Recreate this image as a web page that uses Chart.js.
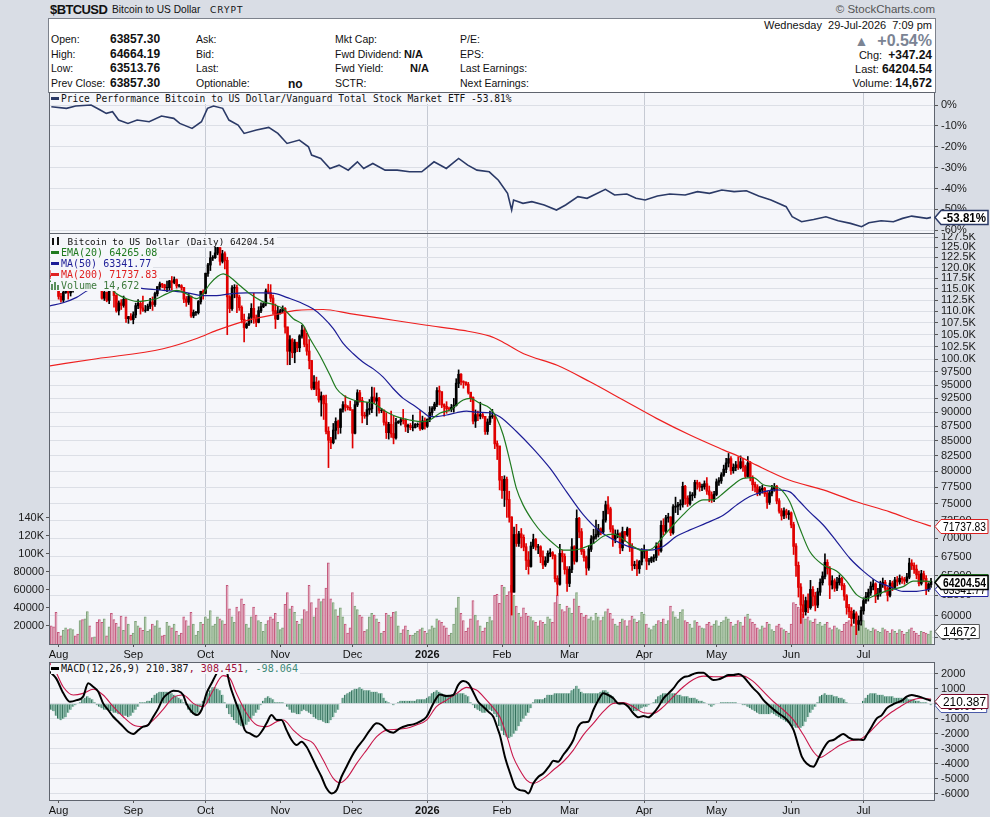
<!DOCTYPE html>
<html>
<head>
<meta charset="utf-8">
<title>$BTCUSD</title>
<script src="https://cdn.jsdelivr.net/npm/chart.js@4.4.1/dist/chart.umd.min.js"></script>
<style>
  body { margin: 0; width: 990px; height: 817px; position: relative; overflow: hidden;
         background: #d9dde5; font-family: "Liberation Sans", Arial, sans-serif; color: #111; }
  .abs { position: absolute; white-space: nowrap; }
  canvas { position: absolute; left: 0; }
  #hdrbox { left: 48px; top: 18px; width: 886px; height: 73px; background: #fff; border: 1px solid #7d828c; }
  .lbl { font-size: 10.5px; line-height: 13px; }
  .val { font-size: 12px; line-height: 13px; font-weight: bold; }
  .leg { font-family: "DejaVu Sans Mono", "Liberation Mono", monospace; font-size: 9.3px; line-height: 11px;
         background: #f5f6fa; padding-right: 2px; }
  .dash { display: inline-block; width: 8px; height: 3px; vertical-align: 2px; margin-right: 2px; }
</style>
</head>
<body>
<!-- header -->
<div class="abs" style="left:50px;top:2px;font-size:13px;font-weight:bold;letter-spacing:-0.6px">$BTCUSD</div>
<div class="abs" style="left:112px;top:4px;font-size:10.2px">Bitcoin to US Dollar</div>
<div class="abs" style="left:210px;top:5px;font-family:'DejaVu Sans';font-size:9px;letter-spacing:1px">CRYPT</div>
<div class="abs" style="right:55px;top:3px;font-size:11.5px;color:#555">&copy; StockCharts.com</div>
<div id="hdrbox" class="abs"></div>

<div class="abs lbl" style="left:51px;top:33px">Open:</div>
<div class="abs lbl" style="left:51px;top:48px">High:</div>
<div class="abs lbl" style="left:51px;top:62px">Low:</div>
<div class="abs lbl" style="left:51px;top:77px">Prev Close:</div>
<div class="abs val" style="left:110px;top:33px">63857.30</div>
<div class="abs val" style="left:110px;top:48px">64664.19</div>
<div class="abs val" style="left:110px;top:62px">63513.76</div>
<div class="abs val" style="left:110px;top:77px">63857.30</div>
<div class="abs lbl" style="left:196px;top:33px">Ask:</div>
<div class="abs lbl" style="left:196px;top:48px">Bid:</div>
<div class="abs lbl" style="left:196px;top:62px">Last:</div>
<div class="abs lbl" style="left:196px;top:77px">Optionable:</div>
<div class="abs val" style="left:288px;top:78px">no</div>
<div class="abs lbl" style="left:335px;top:33px">Mkt Cap:</div>
<div class="abs lbl" style="left:335px;top:48px">Fwd Dividend:</div>
<div class="abs lbl" style="left:335px;top:62px">Fwd Yield:</div>
<div class="abs lbl" style="left:335px;top:77px">SCTR:</div>
<div class="abs val" style="left:404px;top:48px;font-size:11px">N/A</div>
<div class="abs val" style="left:410px;top:62px;font-size:11px">N/A</div>
<div class="abs lbl" style="left:460px;top:33px">P/E:</div>
<div class="abs lbl" style="left:460px;top:48px">EPS:</div>
<div class="abs lbl" style="left:460px;top:62px">Last Earnings:</div>
<div class="abs lbl" style="left:460px;top:77px">Next Earnings:</div>

<div class="abs lbl" style="right:58px;top:19px;font-size:11px">Wednesday&nbsp; 29-Jul-2026&nbsp; 7:09 pm</div>
<div class="abs" style="right:58px;top:32px;font-size:16px;font-weight:bold;color:#7b8494"><span style="font-size:14px">&#9650;</span>&nbsp; +0.54%</div>
<div class="abs lbl" style="right:58px;top:49px;font-size:11px">Chg:&nbsp; <span class="val">+347.24</span></div>
<div class="abs lbl" style="right:58px;top:63px;font-size:11px">Last: <span class="val">64204.54</span></div>
<div class="abs lbl" style="right:58px;top:77px;font-size:11px">Volume: <span class="val">14,672</span></div>

<canvas id="perf" width="990" height="142" style="top:92px"></canvas>
<canvas id="main" width="990" height="430" style="top:233px"></canvas>
<canvas id="macd" width="990" height="155" style="top:662px"></canvas>

<!-- panel legends -->
<div class="abs leg" style="left:51px;top:93px;font-size:9.6px"><span class="dash" style="background:#2b3a67"></span>Price Performance Bitcoin to US Dollar/Vanguard Total Stock Market ETF -53.81%</div>
<div class="abs" style="left:51px;top:236px">
  <div class="leg" style="display:table"><svg width="11" height="9" style="vertical-align:-1px"><rect x="1" y="1" width="2" height="7" fill="#111"/><rect x="6" y="0" width="2" height="8" fill="#111"/></svg> Bitcoin to US Dollar (Daily) 64204.54</div>
  <div class="leg" style="display:table;color:#1f7a1f;font-size:10px"><span class="dash" style="background:#1f7a1f"></span>EMA(20) 64265.08</div>
  <div class="leg" style="display:table;color:#1c1c96;font-size:10px"><span class="dash" style="background:#1c1c96"></span>MA(50) 63341.77</div>
  <div class="leg" style="display:table;color:#e02020;font-size:10px"><span class="dash" style="background:#e02020"></span>MA(200) 71737.83</div>
  <div class="leg" style="display:table;color:#3d7a3d;font-size:10px"><svg width="10" height="9" style="vertical-align:-1px"><rect x="0" y="3" width="2" height="6" fill="#5b8f5b"/><rect x="3" y="1" width="2" height="8" fill="#5b8f5b"/><rect x="6" y="4" width="2" height="5" fill="#5b8f5b"/></svg>Volume 14,672</div>
</div>
<div class="abs leg" style="left:51px;top:663px;font-size:10.1px"><span class="dash" style="background:#000"></span>MACD(12,26,9) 210.387<span style="color:#a0103a">, 308.451</span><span style="color:#3f8a78">, -98.064</span></div>

<script>
// ---- data (day 0 = 1 Aug 2025, one value per day from day -3 to day 362) ----
const FIRST_DAY = -3;
const PREV_CLOSE_K = 118.0;
const monthStarts = [0, 31, 61, 92, 122, 153, 184, 212, 243, 273, 304, 334];
const monthLabels = ['Aug', 'Sep', 'Oct', 'Nov', 'Dec', '2026', 'Feb', 'Mar', 'Apr', 'May', 'Jun', 'Jul'];
const quarterStarts = [61, 153, 243, 334];

// daily closes, highs, lows in thousands of USD
const closesK = [
  117.9,117.8,115.7,113.3,112.5,114.2,115.0,114.1,115.0,117.5,
  116.7,116.5,119.3,118.7,120.2,123.3,118.3,117.4,117.5,117.4,
  116.3,112.9,114.2,112.4,116.9,115.4,113.5,110.1,111.8,111.3,
  112.6,108.4,108.8,108.2,109.2,111.2,111.7,110.7,110.2,110.2,
  111.1,112.0,111.5,113.9,115.5,116.1,115.9,115.3,115.3,116.8,
  116.5,117.1,115.7,115.7,115.3,112.7,112.0,113.3,109.0,109.7,
  109.7,112.1,114.4,114.0,118.6,120.6,122.3,122.4,123.5,124.8,
  121.5,123.3,121.7,113.2,110.6,115.2,115.3,113.1,110.8,108.2,
  106.5,107.2,108.7,110.6,108.5,107.6,110.1,111.0,111.6,114.5,
  114.1,112.9,110.1,108.3,109.6,110.1,110.6,106.6,101.6,103.9,
  101.3,103.4,102.3,104.7,105.9,103.0,101.6,99.7,94.4,95.5,
  94.2,92.2,92.9,91.5,86.6,85.1,84.7,86.8,88.3,87.3,
  90.5,91.3,90.9,90.8,90.4,86.3,91.3,93.5,92.1,89.4,
  89.3,90.4,90.6,92.7,92.0,92.5,90.3,90.3,88.2,86.4,
  87.8,86.2,85.5,88.1,88.3,88.6,88.5,87.4,87.6,87.3,
  87.3,87.8,87.8,87.1,88.4,87.5,88.7,89.9,90.6,91.4,
  93.9,93.7,91.3,91.0,90.6,90.5,90.8,91.2,95.3,97.0,
  95.6,95.5,95.1,93.6,92.6,88.4,89.5,89.3,89.5,89.2,
  86.6,88.2,89.2,89.3,84.5,84.1,78.6,77.0,78.7,75.6,
  73.0,62.9,70.5,69.3,70.6,70.1,68.8,67.0,66.2,68.9,
  69.8,68.8,68.8,67.5,66.4,66.9,67.9,68.0,67.6,64.6,
  63.9,67.9,67.5,65.8,64.0,65.8,68.8,66.9,72.8,70.9,
  68.2,67.4,66.0,68.5,69.9,70.2,70.5,71.3,70.9,72.6,
  74.8,74.2,71.3,69.9,70.5,70.6,68.7,70.9,70.5,71.3,
  68.8,66.3,66.4,65.9,66.8,68.2,68.2,66.9,66.9,67.3,
  67.4,68.9,68.3,71.8,71.0,72.9,73.0,70.8,74.5,74.6,
  74.8,74.9,77.6,75.8,75.0,76.2,76.3,78.2,78.0,77.5,
  77.6,78.0,76.9,76.3,75.7,76.4,78.3,78.5,79.4,80.3,
  81.3,82.0,80.1,80.6,81.0,80.6,81.5,80.7,79.2,81.3,
  79.0,77.9,77.5,76.6,77.1,77.3,76.5,75.2,76.6,77.2,
  77.6,75.4,73.9,73.2,73.9,73.4,73.6,71.9,68.9,66.3,
  63.5,61.3,60.5,61.8,61.0,63.2,62.4,61.3,62.9,64.1,
  64.9,66.7,65.9,63.8,64.3,63.4,64.1,64.6,63.7,62.4,
  61.0,60.5,59.7,60.2,59.0,59.4,60.6,61.8,62.3,62.8,
  63.6,63.9,62.4,62.7,63.9,64.1,63.3,62.5,64.0,63.5,
  64.4,64.2,64.6,64.5,64.3,64.8,66.6,66.3,65.8,65.1,
  64.0,65.2,64.6,63.3,63.8573,64.2045
];
const highsK = [
  119.3,118.8,118.9,116.0,114.0,114.7,115.7,115.5,115.7,117.7,
  117.9,117.6,119.4,122.3,120.3,123.7,124.5,119.2,117.9,118.6,
  117.6,116.8,114.6,114.3,117.4,117.0,115.8,113.7,112.3,112.6,
  113.4,112.6,108.9,109.5,109.9,111.8,112.6,112.2,113.4,111.3,
  111.6,112.9,113.2,114.3,115.5,116.6,116.3,116.1,116.8,117.0,
  117.9,117.8,117.3,116.1,116.0,115.4,113.3,114.0,113.4,110.3,
  110.0,112.4,114.5,114.8,118.7,121.0,123.9,122.9,125.6,126.2,
  125.1,124.2,123.8,122.5,113.5,115.8,116.0,115.9,113.6,111.2,
  109.4,107.5,109.5,111.7,114.0,109.2,111.0,111.9,111.9,115.0,
  116.1,116.0,113.6,111.6,111.1,110.5,111.2,110.8,106.6,104.8,
  104.2,104.0,103.4,105.0,107.0,106.6,105.3,104.0,99.7,96.8,
  96.5,95.8,93.7,93.1,93.1,87.4,85.6,88.0,89.0,88.6,
  90.6,91.9,93.0,91.2,92.0,90.4,92.0,94.1,94.0,92.7,
  90.0,91.8,92.3,94.6,94.5,93.5,92.7,90.7,90.4,89.9,
  88.2,90.2,89.3,88.9,88.5,89.0,90.5,88.8,87.9,88.0,
  89.5,88.0,88.1,90.3,89.3,89.0,88.8,91.0,91.0,91.8,
  94.5,94.8,93.7,91.5,91.9,90.9,91.4,92.5,96.2,97.9,
  97.2,95.8,95.6,95.5,93.6,92.8,90.4,90.2,91.8,89.8,
  89.2,88.8,90.2,90.5,89.4,85.0,84.1,79.2,79.3,79.1,
  76.9,73.1,71.6,72.0,71.0,71.4,70.5,69.3,68.2,69.5,
  70.6,70.0,69.2,69.0,68.3,67.5,68.3,68.6,68.2,67.8,
  65.0,69.2,68.4,67.9,66.2,66.2,70.0,69.0,74.1,73.0,
  71.4,68.5,67.6,69.0,70.4,71.3,72.6,72.0,71.5,73.9,
  75.4,76.1,74.5,71.8,71.2,71.2,70.8,71.6,71.0,71.6,
  71.4,69.3,66.9,67.1,67.0,68.6,69.1,68.4,67.3,67.5,
  67.8,69.4,69.3,72.5,72.8,73.3,73.6,73.1,74.9,76.0,
  75.2,75.6,78.3,77.8,76.2,76.8,76.7,78.6,78.6,78.3,
  78.0,78.5,79.0,77.7,76.8,76.9,78.8,79.0,79.8,81.0,
  82.1,82.9,82.4,81.2,81.6,82.3,82.5,82.1,81.0,82.4,
  81.6,79.3,78.3,77.9,77.6,77.8,77.5,76.9,77.0,77.8,
  78.1,77.8,75.8,74.3,74.4,74.2,74.0,73.8,72.3,69.3,
  66.8,64.0,62.6,62.3,62.7,64.4,63.6,62.9,63.4,64.6,
  65.5,67.9,67.1,66.2,65.0,64.6,64.8,65.1,64.8,64.0,
  62.6,61.4,61.0,60.7,60.5,60.0,61.1,62.2,62.9,63.3,
  64.2,64.5,64.1,63.4,64.3,64.7,64.4,63.6,64.4,64.3,
  64.8,64.9,65.1,64.9,64.8,65.3,67.3,67.1,66.7,66.4,
  65.6,65.7,65.6,65.0,64.1,64.6642
];
const lowsK = [
  117.4,115.8,115.5,112.7,112.0,112.0,114.0,112.7,113.4,114.3,
  115.9,116.3,116.5,118.1,118.2,118.9,117.2,116.9,117.2,117.2,
  114.7,112.7,112.4,112.1,111.7,114.9,110.9,109.8,109.2,110.4,
  110.9,107.6,107.4,108.1,107.3,108.6,110.6,109.4,110.0,109.8,
  110.2,110.6,110.2,111.1,113.4,114.8,115.3,114.8,114.4,114.8,
  114.8,116.2,115.2,115.4,114.7,111.9,111.1,111.5,108.7,108.6,
  109.1,109.4,111.6,112.7,113.9,117.9,119.3,121.7,122.2,123.1,
  120.6,121.1,119.7,105.0,109.7,110.2,113.0,109.7,110.2,107.5,
  103.5,106.3,106.9,107.5,107.4,106.7,107.5,109.7,110.8,111.2,
  113.9,112.1,109.4,106.3,108.2,109.4,109.7,105.3,98.9,98.9,
  100.3,99.3,101.5,101.5,104.3,102.5,100.8,98.1,94.1,94.1,
  93.0,91.8,89.3,88.7,86.2,80.6,83.7,84.5,85.3,86.2,
  86.3,90.0,90.2,90.4,90.3,83.8,86.2,91.0,91.8,88.1,
  88.9,87.8,89.6,89.9,91.6,89.3,89.8,89.9,87.7,85.4,
  85.3,85.6,84.5,85.3,88.0,87.7,87.9,86.6,86.4,86.9,
  86.7,87.2,87.4,86.8,86.9,87.0,87.3,88.3,89.4,90.3,
  91.0,91.3,90.8,89.3,89.8,90.2,90.1,90.0,91.1,94.5,
  95.0,94.4,94.9,93.3,91.9,87.9,87.3,88.5,88.8,88.9,
  86.1,86.1,87.8,88.9,83.7,81.9,77.1,75.8,74.6,73.0,
  72.3,60.1,62.9,68.9,68.9,68.7,68.3,65.8,65.2,66.1,
  68.6,68.4,67.9,66.7,65.9,66.2,66.7,67.5,67.2,64.2,
  62.5,63.8,66.8,65.2,63.0,63.6,65.4,66.5,66.8,70.1,
  67.8,66.9,65.1,65.7,68.2,69.3,69.9,70.2,70.5,70.7,
  72.3,73.5,70.9,68.9,69.4,70.1,67.9,68.3,69.6,70.3,
  68.2,65.7,65.9,65.0,65.3,66.4,67.3,65.8,66.4,66.7,
  66.8,67.0,67.7,68.1,70.5,70.8,72.3,70.4,70.6,73.7,
  73.4,74.1,74.5,74.9,74.6,74.8,75.5,75.9,77.2,76.9,
  77.0,77.2,76.4,75.3,75.2,75.3,76.2,77.8,78.1,79.2,
  79.8,80.7,79.5,79.7,80.1,80.3,80.4,80.0,79.0,79.1,
  78.5,77.0,76.8,76.2,76.3,76.6,76.1,74.3,74.9,76.2,
  76.9,75.0,73.6,72.6,72.8,72.9,72.7,71.5,67.8,64.9,
  62.3,59.1,59.8,60.1,60.4,60.8,61.2,60.6,61.0,62.5,
  63.8,64.6,65.2,62.1,63.3,63.0,63.1,63.8,63.2,61.9,
  60.2,59.8,58.8,59.1,57.8,58.3,58.9,60.2,61.5,61.8,
  62.5,63.2,61.6,62.0,62.4,63.5,62.9,61.8,62.3,63.1,
  63.3,63.7,63.9,64.0,63.9,64.1,64.6,65.8,65.3,64.6,
  63.7,63.8,64.2,62.6,63.0,63.5138
];
// daily volume, thousands
const volumesK = [
  20,19,35,13,9,15,18,16,17,16,
  9,11,26,27,28,36,20,7,8,24,
  27,24,28,9,19,34,27,23,19,31,
  15,30,22,10,12,25,20,18,15,30,
  14,16,22,20,26,18,9,10,24,20,
  18,22,14,10,12,30,26,20,35,22,
  10,14,24,22,30,28,37,20,22,30,
  28,26,22,65,39,30,24,41,36,50,
  44,22,18,30,41,32,26,24,14,22,
  26,30,28,34,24,16,18,44,57,39,
  42,35,25,22,28,38,36,65,46,30,
  40,50,47,50,62,90,50,46,38,31,
  40,30,22,12,18,57,42,38,32,30,
  14,16,30,34,32,28,24,12,14,34,
  32,30,35,36,20,12,16,20,15,10,
  10,12,14,16,18,14,12,16,20,18,
  28,26,24,20,18,10,12,22,40,52,
  34,26,14,18,28,48,32,26,20,14,
  18,24,30,26,54,55,45,65,63,54,
  58,65,54,42,34,30,40,34,31,30,
  26,24,20,26,24,22,30,28,24,46,
  54,44,38,36,42,40,34,50,57,42,
  34,30,32,28,30,26,34,30,26,30,
  36,39,34,28,22,20,24,28,26,20,
  26,31,28,24,26,35,33,22,18,16,
  20,22,26,24,28,22,26,42,36,30,
  28,35,38,26,24,22,18,26,24,20,
  18,17,22,24,20,22,26,20,24,26,
  30,28,24,20,22,26,24,20,30,33,
  28,24,22,18,16,20,18,24,22,16,
  14,20,22,18,16,14,12,22,46,44,
  41,39,33,28,30,26,24,28,22,24,
  20,22,24,18,16,20,18,16,14,22,
  24,26,22,20,26,24,22,26,18,16,
  14,18,16,14,13,18,16,14,12,16,
  14,12,16,14,11,13,16,18,14,12,
  10,14,13,12,11,14.672
];
// daily MACD histogram, hundreds
const macdHistH = [
  -4,-5,-8,-10,-11,-10,-9,-6,-4,-2,
  -1,0,1,3,4,5,4,3,1,-1,
  -2,-3,-4,-4,-5,-5,-6,-6,-7,-7,
  -8,-8,-9,-8,-6,-4,-2,1,1,1,
  2,2,4,6,7,8,8,8,8,7,
  7,6,5,4,3,1,-1,-4,-6,-7,
  -8,-6,-2,2,4,7,9,11,11,10,
  9,6,1,-3,-7,-9,-11,-13,-14,-15,
  -15,-14,-12,-10,-8,-6,-4,-1,2,4,
  5,4,3,1,1,1,1,0,-2,-4,
  -6,-6,-7,-7,-5,-4,-5,-6,-7,-9,
  -10,-11,-11,-12,-13,-13,-11,-9,-6,-4,
  0,4,6,7,8,9,10,10,11,10,
  9,9,9,8,8,8,7,7,4,2,
  1,0,-1,0,1,2,2,2,2,2,
  2,2,3,3,3,3,4,5,7,8,
  9,8,7,6,6,6,6,6,7,7,
  7,7,6,5,1,-1,-3,-4,-5,-6,
  -6,-5,-4,-5,-7,-9,-15,-18,-21,-22,
  -23,-22,-20,-18,-15,-12,-10,-8,-6,-3,
  1,3,3,3,3,4,6,6,6,7,
  7,7,7,7,7,7,9,10,12,10,
  8,7,7,7,7,7,7,7,8,9,
  9,8,6,5,2,0,-1,0,0,-1,
  -2,-4,-5,-5,-4,-3,-2,-2,-1,0,
  1,3,5,6,7,7,7,7,7,7,
  6,6,5,5,5,4,4,4,3,2,
  2,1,0,-1,-2,-1,0,0,1,1,
  1,1,1,1,1,0,0,-1,-1,-2,
  -3,-4,-5,-6,-7,-7,-7,-7,-7,-6,
  -7,-8,-9,-10,-11,-12,-13,-14,-15,-16,
  -16,-16,-15,-12,-9,-6,-4,-2,1,5,
  6,7,6,6,6,5,5,4,4,3,
  1,0,0,0,0,0,0,2,4,6,
  7,7,7,6,6,6,5,5,5,5,
  4,4,4,4,4,4,3,3,3,2,
  2,1,1,1,0,-0.98064
];

// MACD line and signal, read at these days
const macdDays = [-3.6,-1,2,4.7,7.5,10.2,12.3,14.4,16.5,18.5,20.6,22.7,24.8,26.8,28.9,31,33.1,35.1,37.2,39.3,41.4,43.4,45.5,47.6,49.7,51.7,53,55.2,57.3,59.3,61.4,63.5,65.6,67.6,68.5,69.7,71.1,73.2,75.2,77.3,79.4,82.2,84.2,86.3,88.4,90.5,92.5,94.6,96.7,98.8,100.8,102.9,105,107,109.1,111.2,113.3,115.4,117.4,119.5,121.6,123.7,126.4,129.2,132,134,136.1,138.9,141.6,144.4,147.2,149.9,152.7,155.5,158.2,161,163.8,165.8,167.9,170,172,174.1,176.2,178.3,180.4,182.4,183.1,185.2,187.3,189.4,191.4,193.5,194.9,197,199.1,201.2,203.9,205.3,207.3,209.4,211.5,213.6,215.6,217.7,219.8,221.9,224,226,228.1,230.2,232.3,234.3,236.4,238.5,240.6,242.7,244.7,246.8,248.9,251,253.1,255.1,257.2,259.3,261.4,263.4,265.5,267.6,269.7,271.7,273.8,275.9,278,280,282.1,284.2,286.3,288.3,290.4,292.5,294.6,296.7,298.7,300.8,302.9,305,307.1,308.4,310.4,313.2,315.3,317.4,319.4,321.5,323.6,325.6,327.7,329.8,331.9,334,335.3,337.4,339.5,341.6,343.6,345.7,347.8,349.9,351.9,354,356.1,358.1,360.2,362];
const macdValues = [2130,1690,690,130,240,470,1360,1130,800,20,-420,-870,-1200,-1530,-1870,-2020,-1760,-1530,-1420,-870,-310,360,690,870,840,580,20,-530,-760,-420,690,1360,2020,2580,2800,2240,1240,240,-640,-1760,-1980,-2200,-1870,-1310,-760,-1090,-1090,-1760,-2420,-2760,-2530,-2870,-3530,-4200,-4870,-5640,-5980,-5760,-4870,-4200,-3530,-2980,-2420,-1760,-1310,-1420,-1760,-1930,-1640,-1470,-1380,-1200,-870,20,620,510,580,1240,1510,1360,800,130,-200,-530,-870,-1760,-2090,-3530,-4600,-5530,-5760,-5820,-5980,-5310,-4870,-4640,-4090,-3800,-3870,-3420,-2980,-2420,-1530,-1240,-1200,-420,240,690,580,360,20,20,-200,-640,-910,-820,-910,-640,-200,360,690,1020,1470,1760,1840,1980,2070,2070,1800,1580,1620,1760,1910,1910,1980,1800,1400,1020,690,240,-90,-380,-640,-870,-1200,-1760,-2870,-3530,-3980,-4200,-3640,-2980,-2530,-2420,-2200,-2020,-2240,-2380,-2380,-2420,-2090,-1530,-980,-760,-310,-90,70,200,470,580,510,420,290,210.387];
const signalDays = [-3.6,-1.5,1.9,6.1,10.2,14.4,18.5,22.7,26.8,31,35.1,39.3,43.4,47.6,51.7,55.9,60,63.5,66.9,68.3,71.1,73.8,78,82.2,86.3,90.5,93.2,97.4,101.5,105.7,109.8,114,116.7,119.5,123.7,127.8,132,136.1,140.2,144.4,148.5,152.7,156.8,161,165.2,169.3,173.4,177.6,181.7,183.1,185.9,188.6,191.4,194.2,197,201.2,205.3,209.4,213.6,217.7,221.9,226,230.2,234.3,238.5,242.7,246.8,251,255.1,259.3,263.4,267.6,271.7,275.9,280,284.2,288.3,292.5,296.7,300.8,305,309.1,313.2,316,320.1,324.3,328.4,332.5,336.7,340.8,345,349.2,353.3,357.5,362];
const signalValues = [2700,2240,1130,580,690,960,580,-200,-870,-1420,-1530,-1090,-380,420,580,20,-200,690,1690,1870,1690,690,-640,-1420,-1530,-1200,-1090,-1760,-2310,-2640,-3760,-4980,-5270,-4980,-3980,-3090,-2200,-1760,-1710,-1640,-1420,-1090,-200,240,690,1090,910,240,-530,-870,-2100,-3530,-4420,-5090,-5310,-4980,-4420,-3870,-3090,-2090,-1310,-530,20,70,-200,-600,-640,-200,470,1130,1620,1840,1800,1800,1840,1840,1470,800,130,-420,-1090,-2090,-3200,-3580,-3200,-2760,-2470,-2380,-1870,-1200,-640,-200,180,360,308.451];

// moving averages (USD, thousands), read at these days
const ema20Days = [-3.6,3,9,14,19,24.1,28.2,32.4,36.5,40.7,44.8,49,53.1,57.3,60,62.8,68.3,71.1,75.2,79.4,84.9,89.1,93.2,97.4,101.5,104.3,108.4,112.6,115.4,118.1,122.3,126.4,130.6,134.7,140.2,145.8,151.3,154.1,158.2,162.4,167.9,170.7,174.8,179,181.7,184.5,187.3,190,192.8,196.9,201.1,205.3,209.4,213.6,217.7,221.9,226,230.2,234.3,238.4,242.6,246.8,250.9,255.1,259.2,263.4,267.5,271.7,275.8,280,284.1,288.3,292.4,296.6,299.3,303.4,307.6,311.7,317.3,322.8,327,331.1,335.3,339.4,344.9,350.5,354.6,358.8,362];
const ema20K = [116.8,116.0,116.5,118.0,116.8,113.9,112.8,112.2,112.4,112.8,113.9,114.7,113.9,112.8,113.9,116.2,118.5,117.8,115.8,113.9,112.1,111.5,110.6,108.4,107.0,104.2,100.8,96.9,94.3,93.1,92.2,91.9,91.6,90.4,89.2,88.6,88.3,88.6,89.8,90.4,92.2,92.5,91.6,90.7,89.0,86.0,81.6,77.3,74.8,72.4,70.6,69.3,68.4,68.4,68.7,69.3,70.3,70.6,69.9,68.9,68.3,68.7,70.3,71.9,73.4,74.8,75.6,75.6,76.6,77.9,78.9,79.0,77.9,77.6,77.3,75.3,71.4,68.2,66.4,65.6,64.3,62.6,62.1,62.6,63.2,63.6,64.3,64.3,64.26508];
const ma50Days = [-3.6,1.9,7.5,12.3,20,28.2,35.1,43.4,51.7,60,65.6,71.1,78,84.9,90.5,94.6,100.1,105.7,109.8,114,118.1,122.3,126.4,130.6,134.7,138.9,143,147.2,151.3,154.1,156.8,161,165.1,169.3,173.4,179,183.1,190,196.9,203.9,210.8,217.7,224.6,231.6,238.4,245.4,250.9,256.4,262,268.9,275.8,281.3,286.8,292.4,297.9,303.4,307.6,311.6,317.3,322.8,328.3,333.9,339.4,344.9,350.5,356,360.1,362];
const ma50K = [111.2,111.9,113.1,114.7,115.5,115.6,115.1,114.7,114.3,113.5,113.5,113.9,114.1,114.1,113.9,113.1,112.0,110.5,108.7,106.3,103.2,101.1,99.4,98.1,96.5,94.3,92.5,91.3,90.0,89.2,89.2,89.5,89.9,90.2,90.0,89.9,89.2,86.6,83.7,80.5,76.8,73.4,71.0,69.6,68.7,68.4,68.9,70.3,71.2,72.2,73.3,74.8,76.1,76.8,77.1,76.8,75.3,73.8,71.9,69.6,67.3,65.6,64.3,63.6,63.0,63.0,63.2,63.34177];
const ma200Days = [-3.6,15.8,43.4,57.3,65.6,78,91.8,98.8,109.8,120.9,134.7,152.7,167.9,179,183.1,193,206.9,220.5,234.3,248.1,262,275.8,284.1,289.6,303.4,317.3,331.1,344.9,356,362];
const ma200K = [98.7,100.1,102.1,104.2,105.9,108.0,109.5,110.2,110.4,109.5,108.4,107.0,105.9,104.7,103.8,101.1,98.8,95.6,92.2,88.9,86.0,83.5,82.1,81.0,78.6,77.1,75.3,73.8,72.4,71.73783];

// price performance vs VTI, percent
const perfDays = [-3,3.3,7.1,13.5,17.3,19.8,22.4,24.9,28.8,32.6,37.6,42.7,47.8,50.3,55.4,59.3,61.8,64.3,68.1,70.7,74.5,77,82.1,87.2,91,94.8,99.9,103.7,105,108.8,112.6,116.4,120.2,124,126.6,130.4,135.5,140.5,145.6,150.7,155.8,160.9,166,169.8,173.6,178.7,182.5,186.3,188,188.8,192.7,196.4,201.5,206.6,210.4,215.5,219.3,226.9,230.7,235.8,239.6,243.4,248.5,253.6,260,265.1,270.1,275.2,280.3,285.4,290.5,295.6,301.9,304.4,308.3,313.3,318.4,323.5,328.6,333.2,336.2,341.3,346.4,350.2,354,360.3,362];
const perfValues = [-0.8,-1.6,-0.5,0,-2.4,-4.0,-3.2,-7.2,-8.8,-7.2,-8.0,-5.3,-6.4,-8.8,-11.2,-8.0,-1.6,-0.5,-1.6,-7.2,-9.6,-13.6,-12,-10.7,-13.6,-18.4,-16.8,-20,-24,-25.6,-30.4,-28.8,-31.2,-27.2,-30.4,-28,-31.2,-31.2,-32,-32,-27.2,-30.4,-25.6,-28.8,-31.2,-32,-36,-42.3,-50.3,-45.5,-47.1,-46.3,-47.9,-50.3,-47.9,-43.9,-44.7,-40.4,-43.1,-42.6,-44.7,-45.5,-43.6,-42.6,-43.1,-41.5,-42.3,-40.7,-41.5,-41.1,-43.6,-45.5,-48.7,-53.5,-55.9,-54.8,-53.5,-55.4,-56.7,-58.3,-56.4,-55.4,-55.9,-54.3,-53.2,-54.3,-53.81];

// axis tick values
const priceTicks = [57500,60000,62500,65000,67500,70000,72500,75000,77500,80000,82500,85000,87500,90000,92500,95000,97500,100000,102500,105000,107500,110000,112500,115000,117500,120000,122500,125000,127500];
const volumeTicks = [20000,40000,60000,80000,100000,120000,140000];
const macdTicks = [-6000,-5000,-4000,-3000,-2000,-1000,0,1000,2000];
const perfTicks = [0,-10,-20,-30,-40,-50,-60];

// ---- chart setup ----
Chart.defaults.font.family = '"Liberation Sans", Arial, sans-serif';
Chart.defaults.font.size = 11;
Chart.defaults.color = '#1a1a1a';
Chart.defaults.animation = false;
Chart.defaults.events = [];
Chart.defaults.plugins.legend.display = false;
Chart.defaults.plugins.tooltip.enabled = false;

const XMIN = -3.55, XMAX = 363.25;
const GRID = '#dcdfe6';
const QGRID = '#c6cad3';

const TAGS = {
  perf: [{ axis: 'y', value: -53.81, text: '-53.81%', color: '#2b3a67', bold: true }],
  main: [
    { axis: 'y', value: 71737.83, text: '71737.83', color: '#d92020' },
    { axis: 'yv', value: 14672, text: '14672', color: '#555' },
    { axis: 'y', value: 63341.77, text: '63341.77', color: '#2323a0' },
    { axis: 'y', value: 64265.08, text: '64265.08', color: '#2a8a2a' },
    { axis: 'y', value: 64204.54, text: '64204.54', color: '#000', bold: true }
  ],
  macd: [
    { axis: 'y', value: -98.064, text: '-98.064', color: '#4a5aa8' },
    { axis: 'y', value: 210.387, text: '210.387', color: '#7a0a2a' }
  ]
};

function drawTag(chart, t) {
  const c = chart.ctx;
  const x0 = chart.chartArea.right + 1;
  const y = Math.round(chart.scales[t.axis].getPixelForValue(t.value)) + 0.5;
  c.font = (t.bold ? 'bold ' : '') + '12px "Liberation Sans", Arial, sans-serif';
  const x1 = x0 + 6;
  const x2 = Math.min(x1 + c.measureText(t.text).width + 5, 988);
  c.beginPath();
  c.moveTo(x0, y); c.lineTo(x1, y - 7); c.lineTo(x2, y - 7); c.lineTo(x2, y + 7); c.lineTo(x1, y + 7);
  c.closePath();
  c.fillStyle = '#fff'; c.fill();
  c.strokeStyle = t.color; c.lineWidth = t.bold ? 1.5 : 1; c.stroke();
  c.fillStyle = '#000'; c.textAlign = 'left'; c.textBaseline = 'middle';
  c.fillText(t.text, x1 + 2, y + 1, x2 - x1 - 4);
}

const panel = {
  id: 'panel',
  beforeDraw(chart) {
    const a = chart.chartArea, c = chart.ctx;
    c.save();
    c.fillStyle = '#f5f6fa';
    c.fillRect(a.left, a.top, a.right - a.left, a.bottom - a.top);
    c.restore();
  },
  afterDraw(chart) {
    const a = chart.chartArea, c = chart.ctx;
    c.save();
    c.strokeStyle = '#5f646e'; c.lineWidth = 1;
    c.strokeRect(a.left - 0.5, a.top - 0.5, a.right - a.left + 1, a.bottom - a.top + 1);
    (TAGS[chart.canvas.id] || []).forEach(t => drawTag(chart, t));
    c.restore();
  }
};

// no extra room for edge labels: plot areas are placed exactly
function noPad(s) { s.paddingTop = 0; s.paddingBottom = 0; s.paddingLeft = 0; s.paddingRight = 0; }

function timeAxis(showLabels, h) {
  return {
    type: 'linear', min: XMIN, max: XMAX, offset: false,
    afterBuildTicks: s => { s.ticks = monthStarts.map(v => ({ value: v })); },
    afterFit: s => { s.height = showLabels ? h : 0; noPad(s); },
    ticks: {
      display: showLabels, autoSkip: false, maxRotation: 0, padding: 1, color: '#111',
      callback: v => monthLabels[monthStarts.indexOf(v)],
      font: ctx => ({ size: 11, weight: ctx.tick && ctx.tick.value === 153 ? 'bold' : 'normal' })
    },
    grid: {
      offset: false, drawTicks: showLabels, tickLength: 3, tickColor: '#555',
      color: ctx => (ctx.tick && quarterStarts.includes(ctx.tick.value)) ? QGRID : 'rgba(0,0,0,0)'
    },
    border: { display: false }
  };
}

function rightAxis(extra) {
  return Object.assign({
    position: 'right',
    afterFit: s => { s.width = 56; noPad(s); },
    grid: { color: GRID, tickColor: '#555', tickLength: 4 },
    border: { display: false }
  }, extra);
}

const days = closesK.map((_, i) => FIRST_DAY + i);
const opensK = closesK.map((c, i) => i === 0 ? PREV_CLOSE_K : closesK[i - 1]);
const isUp = closesK.map((c, i) => c >= opensK[i]);
const pts = (xs, ys, k) => xs.map((x, i) => ({ x: x, y: ys[i] * k }));

// ---- performance panel ----
new Chart(document.getElementById('perf'), {
  type: 'line',
  data: { datasets: [{
    data: pts(perfDays, perfValues, 1), borderColor: '#2b3a67', borderWidth: 1.6,
    pointRadius: 0, tension: 0
  }] },
  options: {
    responsive: false,
    layout: { padding: { left: 50, top: 1, bottom: 1, right: 0 } },
    scales: {
      x: timeAxis(false, 0),
      y: rightAxis({
        min: -61.3, max: 5.75,
        afterBuildTicks: s => { s.ticks = perfTicks.map(v => ({ value: v })); },
        ticks: { autoSkip: false, padding: 3, color: '#1a1a1a', callback: v => v + '%' }
      })
    }
  },
  plugins: [panel]
});

// ---- price panel ----
new Chart(document.getElementById('main'), {
  type: 'bar',
  data: { datasets: [
    { type: 'line', order: 1, yAxisID: 'y', data: pts(ema20Days, ema20K, 1000), borderColor: '#1f7a1f', borderWidth: 1.2, pointRadius: 0, cubicInterpolationMode: 'monotone' },
    { type: 'line', order: 1, yAxisID: 'y', data: pts(ma50Days, ma50K, 1000), borderColor: '#1c1c96', borderWidth: 1.2, pointRadius: 0, cubicInterpolationMode: 'monotone' },
    { type: 'line', order: 1, yAxisID: 'y', data: pts(ma200Days, ma200K, 1000), borderColor: '#ee2020', borderWidth: 1.2, pointRadius: 0, cubicInterpolationMode: 'monotone' },
    { order: 3, yAxisID: 'y', grouped: false, barThickness: 1,
      data: days.map((d, i) => ({ x: d, y: [lowsK[i] * 1000, highsK[i] * 1000] })),
      backgroundColor: isUp.map(u => u ? '#000' : '#e00000') },
    { order: 2, yAxisID: 'y', grouped: false, barThickness: 2,
      data: days.map((d, i) => ({ x: d, y: [Math.min(opensK[i], closesK[i]) * 1000, Math.max(opensK[i], closesK[i]) * 1000 + 60] })),
      backgroundColor: isUp.map(u => u ? '#000' : '#e00000') },
    { order: 9, yAxisID: 'yv', grouped: false, barPercentage: 1, categoryPercentage: 1,
      data: days.map((d, i) => ({ x: d, y: volumesK[i] * 1000 })),
      backgroundColor: isUp.map(u => u ? '#adc6a8' : '#dea6ba'),
      borderColor: isUp.map(u => u ? '#7fa27b' : '#c4587c'),
      borderWidth: { left: 1, right: 0, top: 1, bottom: 0 } }
  ] },
  options: {
    responsive: false,
    layout: { padding: { top: 1, left: 0, right: 0, bottom: 0 } },
    scales: {
      x: timeAxis(true, 19),
      y: rightAxis({
        type: 'logarithmic', min: 56740, max: 128300,
        afterBuildTicks: s => { s.ticks = priceTicks.map(v => ({ value: v })); },
        ticks: { autoSkip: false, padding: 3, color: '#1a1a1a',
          callback: v => v >= 100000 ? (v / 1000).toFixed(1) + 'K' : String(v) }
      }),
      yv: {
        type: 'linear', position: 'left', min: 0, max: 454000,
        afterBuildTicks: s => { s.ticks = volumeTicks.map(v => ({ value: v })); },
        afterFit: s => { s.width = 50; noPad(s); },
        ticks: { autoSkip: false, padding: 2, color: '#1a1a1a',
          callback: v => v >= 100000 ? (v / 1000) + 'K' : String(v) },
        grid: { drawOnChartArea: false, tickColor: '#555', tickLength: 4 },
        border: { display: false }
      }
    }
  },
  plugins: [panel]
});

// ---- MACD panel ----
new Chart(document.getElementById('macd'), {
  type: 'bar',
  data: { datasets: [
    { type: 'line', order: 1, data: pts(macdDays, macdValues, 1), borderColor: '#000', borderWidth: 2, pointRadius: 0, cubicInterpolationMode: 'monotone' },
    { type: 'line', order: 2, data: pts(signalDays, signalValues, 1), borderColor: '#c8174a', borderWidth: 1.1, pointRadius: 0, cubicInterpolationMode: 'monotone' },
    { order: 5, grouped: false, barPercentage: 1, categoryPercentage: 1,
      data: days.map((d, i) => ({ x: d, y: macdHistH[i] * 100 })),
      backgroundColor: '#8dbcab', borderColor: '#2f6d58',
      borderWidth: { left: 1, right: 0, top: 0, bottom: 0 } }
  ] },
  options: {
    responsive: false,
    layout: { padding: { left: 50, top: 1, right: 0, bottom: 0 } },
    scales: {
      x: timeAxis(true, 17),
      y: rightAxis({
        min: -6420, max: 2713,
        afterBuildTicks: s => { s.ticks = macdTicks.map(v => ({ value: v })); },
        ticks: { autoSkip: false, padding: 3, color: '#1a1a1a', callback: v => String(v) }
      })
    }
  },
  plugins: [panel]
});
</script>
</body>
</html>
